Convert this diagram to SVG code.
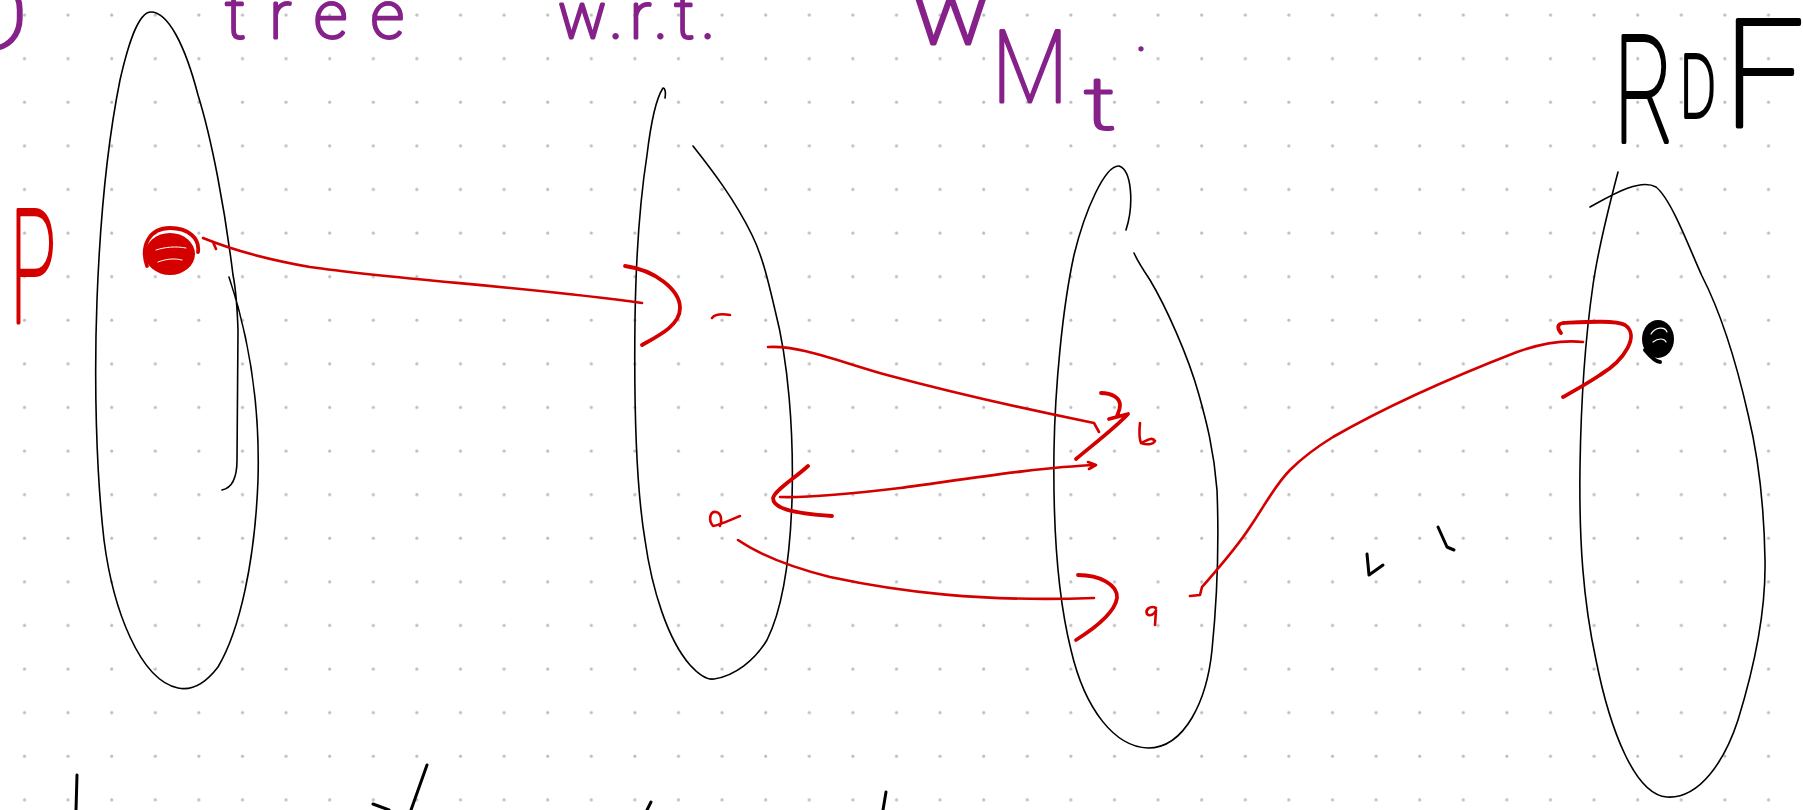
<svg xmlns="http://www.w3.org/2000/svg" width="1803" height="810" viewBox="0 0 1803 810">
<defs>
<pattern id="dots" x="0" y="0" width="43.6" height="43.6" patternUnits="userSpaceOnUse"><circle cx="24.5" cy="15" r="1.5" fill="#bdbdbd"/></pattern>
</defs>
<style>
.ink{fill:none;stroke:#000;stroke-width:1.6;stroke-linecap:round;stroke-linejoin:round}
.red{fill:none;stroke:#d40000;stroke-width:2.6;stroke-linecap:round;stroke-linejoin:round}
.redh{fill:none;stroke:#d40000;stroke-width:3.8;stroke-linecap:round;stroke-linejoin:round}
.mark{fill:none;stroke:#000;stroke-width:3;stroke-linecap:round;stroke-linejoin:round}
.hw{font-family:Roboto,"Liberation Sans",sans-serif;font-weight:100;stroke-linejoin:round;stroke-linecap:round}
.purple{fill:#852189;stroke:#852189;stroke-width:3}
.rtext{fill:#d40000;stroke:#d40000;stroke-width:4}
.btext{fill:#000;stroke:#000;stroke-width:4}
</style>
<rect width="1803" height="810" fill="#fff"/>
<rect width="1803" height="810" fill="url(#dots)"/>

<g id="header-labels">
<text class="hw purple" x="-40" y="50" font-size="100" stroke-width="4" textLength="68" lengthAdjust="spacingAndGlyphs">D</text>
<text class="hw purple" x="225" y="38" font-size="66" stroke-width="3.5" textLength="179" lengthAdjust="spacing">tree</text>
<text class="hw purple" x="558" y="38" font-size="64" stroke-width="3.5" textLength="157" lengthAdjust="spacing">w.r.t.</text>
<text class="hw purple" font-size="80"><tspan x="912" y="44" font-size="90" textLength="78" lengthAdjust="spacingAndGlyphs">w</tspan><tspan x="992" y="102" font-size="100" textLength="76" lengthAdjust="spacingAndGlyphs">M</tspan><tspan x="1084" y="129" font-size="72" textLength="32" lengthAdjust="spacingAndGlyphs">t</tspan><tspan x="1137" y="50" font-size="40">.</tspan></text>
</g>

<g id="node-P-tree">
<path class="ink" d="M222,490 C232,488 237,478 237,460 L238,330 C237,300 235,285 233,275 C225,210 212,140 198,95 C185,45 168,12 151,12 C138,12 128,45 120,80 C108,140 100,220 97,300 C94,380 96,470 104,540 C113,610 140,680 178,688 C192,691 205,684 218,667 C240,630 255,560 258,480 C260,410 250,340 229,277"/>
<text class="hw rtext" x="10" y="322" font-size="158" textLength="46" lengthAdjust="spacingAndGlyphs">P</text>
<g id="point-P">
<ellipse cx="170" cy="254" rx="25" ry="21" fill="#d40000"/>
<path class="redh" d="M147,266 C140,245 150,228 170,228 C188,228 200,238 198,252"/>
<path d="M156,250 C165,247 176,246 186,248 M158,262 C166,259 174,258 182,260" fill="none" stroke="#fff" stroke-width="1" stroke-linecap="round"/>
</g>
</g>

<g id="node-wrt">
<path class="ink" d="M665,98 C666,92 665,88 663,88 C655,100 650,130 647,155 C640,200 636,250 635,320 C634,400 635,480 645,540 C652,590 668,640 690,665 C700,676 708,680 714,679 C735,676 755,660 767,640 C782,610 790,560 792,500 C794,430 788,360 775,310 C768,280 762,255 752,235 C735,200 712,170 693,146"/>
<path class="red" stroke-width="3" d="M712,318 C716,313 724,314 730,315"/>
<path class="red" stroke-width="3" d="M740,516 C730,520 720,525 713,526 C708,520 710,511 716,512 C722,513 722,522 720,526"/>
</g>

<g id="node-Mt">
<path class="ink" d="M1126,230 C1134,205 1132,170 1119,166 C1105,165 1085,210 1074,255 C1062,310 1055,390 1054,450 C1053,520 1056,590 1071,650 C1085,710 1115,747 1148,748 C1185,748 1207,700 1212,650 C1217,600 1219,540 1217,490 C1214,450 1206,420 1199,395 C1188,355 1165,305 1150,280 C1142,268 1137,260 1134,253"/>
<path class="red" stroke-width="3" d="M1140,423 C1139,432 1139,438 1141,443 C1146,441 1152,436 1155,441 C1153,445 1146,445 1141,443"/>
<path class="red" stroke-width="3" d="M1156,608 C1150,605 1145,610 1147,614 C1150,617 1155,614 1156,610 L1155,625"/>
</g>

<g id="node-RDF">
<path class="ink" d="M1618,172 C1608,210 1598,250 1593,285 C1585,340 1581,400 1580,467 C1579,540 1583,600 1596,660 C1610,730 1635,795 1667,797 C1700,799 1725,760 1738,720 C1755,665 1766,610 1765,560 C1764,500 1758,455 1748,414 C1738,370 1722,315 1702,276 C1690,250 1672,200 1656,187 C1640,178 1612,195 1590,207"/>
<text class="hw btext"><tspan x="1614" y="142" font-size="148" textLength="60" lengthAdjust="spacingAndGlyphs">R</tspan><tspan x="1680" y="117" font-size="88" textLength="36" lengthAdjust="spacingAndGlyphs">D</tspan><tspan x="1724" y="127" font-size="150" textLength="80" lengthAdjust="spacingAndGlyphs">F</tspan></text>
<g id="point-RDF">
<ellipse cx="1658" cy="339" rx="16" ry="19" fill="#000"/>
<path d="M1645,350 C1650,356 1656,362 1660,362" fill="none" stroke="#000" stroke-width="4" stroke-linecap="round"/>
<path d="M1651,334 C1655,327 1665,326 1667,332 M1653,342 C1658,338 1664,338 1666,342" fill="none" stroke="#fff" stroke-width="1.2" stroke-linecap="round"/>
</g>
</g>

<g id="connectors">
<path class="red" d="M203,238 C230,249 270,260 310,267 C400,280 530,287 642,303"/>
<path class="red" d="M213,242 L216,249"/>
<path class="redh" d="M625,266 C655,270 680,290 680,308 C680,325 660,335 642,345"/>

<path class="red" d="M768,347 C800,345 840,362 887,375 C950,392 1030,410 1094,423 L1099,432"/>
<path class="redh" d="M1101,393 C1112,393 1120,398 1120,405 C1120,410 1118,413 1117,416 M1109,419 L1128,414 C1115,428 1095,443 1076,459"/>

<path class="red" stroke-width="3" d="M1096,465 C1040,467 960,480 900,488 C850,494 810,498 780,497 M1088,462 L1096,465 L1089,469"/>
<path class="redh" d="M808,466 C795,478 775,490 773,498 C773,508 790,513 832,516"/>

<path class="red" d="M738,540 C760,555 790,567 830,577 C900,592 980,602 1094,598"/>
<path class="redh" d="M1078,575 C1100,575 1118,585 1117,598 C1115,612 1095,628 1076,640"/>

<path class="red" d="M1190,596 L1200,595 L1202,587 C1215,572 1235,550 1250,527 C1265,505 1275,485 1290,470 C1305,455 1320,445 1333,437 C1380,410 1450,378 1517,352 C1545,342 1565,340 1583,342"/>
<path class="redh" d="M1561,333 C1557,328 1557,324 1563,323 C1585,322 1615,320 1625,325 C1640,335 1625,360 1600,375 C1585,385 1570,393 1563,397"/>
</g>

<g id="marks">
<path class="mark" d="M1367,554 L1369,575 L1383,565"/>
<path class="mark" d="M1438,527 L1447,547 L1454,550"/>
<path class="mark" d="M77,775 L76,810"/>
<path class="mark" d="M427,765 L411,810 M373,804 L389,810"/>
<path class="mark" d="M651,802 L647,810"/>
<path class="mark" d="M886,792 L883,810"/>
</g>
</svg>
